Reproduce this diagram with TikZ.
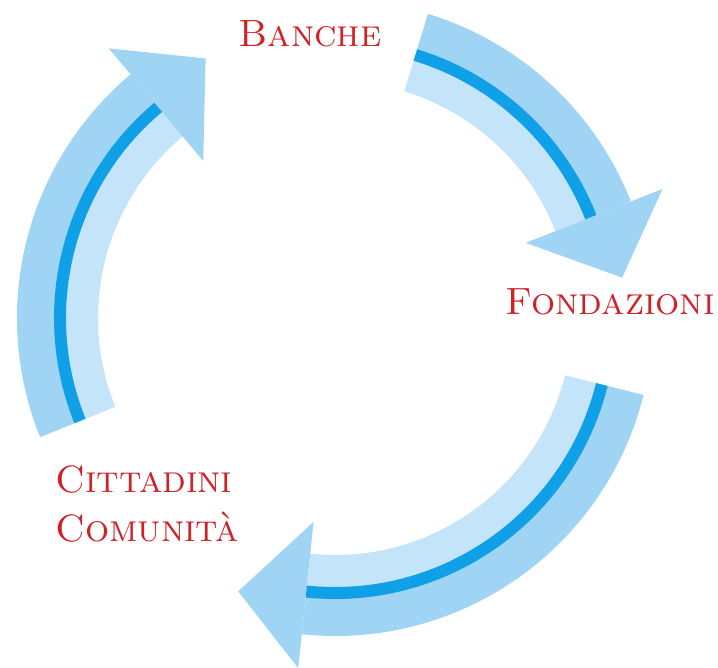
\documentclass[tikz,border=0pt]{standalone}
\usepackage{fontspec}
\usepackage{tikz}

\definecolor{bandouter}{RGB}{160,212,245}
\definecolor{bandinner}{RGB}{196,229,249}
\definecolor{stripeblue}{RGB}{16,160,232}
\definecolor{labelred}{RGB}{208,32,40}

\tikzset{
  cycletext/.style={text=labelred,inner sep=0pt,font=\fontsize{19}{24.5}\selectfont\scshape},
  stripe/.style={draw=stripeblue,line width=6pt}
}

\begin{document}
\begin{tikzpicture}[x=0.5pt,y=0.5pt]
  % #1 = tail angle, #2 = angle of the head
  \newcommand{\flowarrow}[2]{%
    \fill[bandinner] (#1:237) arc[start angle=#1,end angle=#2,radius=237]
      -- (#2:277) arc[start angle=#2,end angle=#1,radius=277] -- cycle;
    \fill[bandouter] (#1:277) arc[start angle=#1,end angle=#2,radius=277]
      -- (#2:318) arc[start angle=#2,end angle=#1,radius=318] -- cycle;
    \fill[bandouter] (#2:205) -- (#2:352) -- ({#2-13.5}:290) -- cycle;
    \draw[stripe] (#1:275) arc[start angle=#1,end angle=#2,radius=275];
  }
  \useasboundingbox (-335,-350) rectangle (383,318);
  \coordinate (centre) at (0,0);

  \flowarrow{202}{130}
  \flowarrow{73}{21.5}
  \flowarrow{-14}{-96}

  \node[cycletext,anchor=base] (banche) at (-25,271) {Banche};
  \node[cycletext,anchor=base] (fondazioni) at (275,3) {Fondazioni};
  \node[cycletext,anchor=base west,align=left] (cittadini) at (-280,-224) {Cittadini\\Comunità};
\end{tikzpicture}
\end{document}
